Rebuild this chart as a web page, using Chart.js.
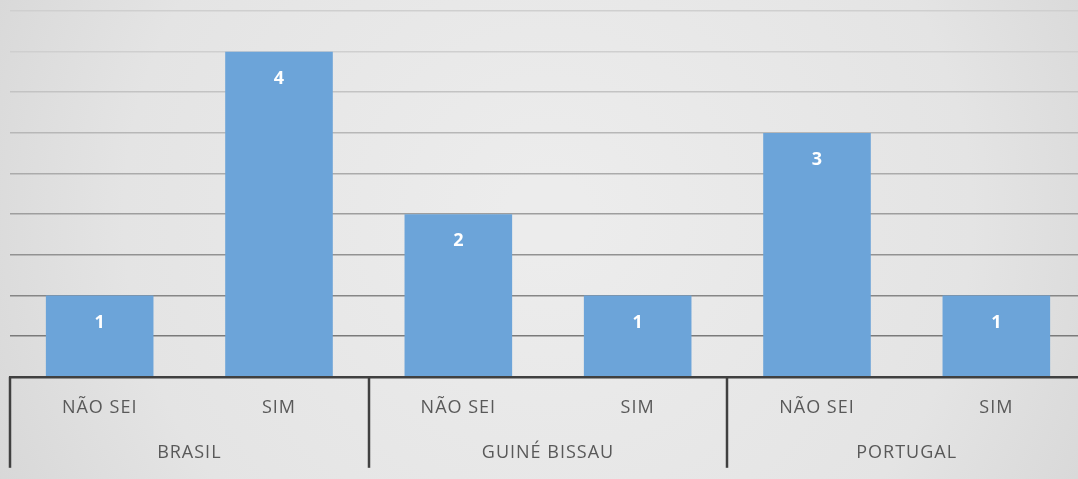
<!DOCTYPE html>
<html>
<head>
<meta charset="utf-8">
<script src="https://cdn.jsdelivr.net/npm/chart.js@4/dist/chart.umd.min.js"></script>
<style>
  html, body { margin: 0; padding: 0; overflow: hidden; background: #e2e2e2; }
  #wrap { position: absolute; left: 0; top: 0; width: 1096px; height: 479px; }
</style>
</head>
<body>
<div id="wrap"><canvas id="chart"></canvas></div>
<script>
// answers inside each country
const answers = ['NÃO SEI', 'SIM', 'NÃO SEI', 'SIM', 'NÃO SEI', 'SIM'];
const countries = ['BRASIL', 'GUINÉ BISSAU', 'PORTUGAL'];
const counts = [1, 4, 2, 1, 3, 1];
const yTicks = [0, 0.5, 1, 1.5, 2, 2.5, 3, 3.5, 4, 4.5];

const FONT = '"Open Sans", "Liberation Sans", sans-serif';
const BAR = '#6ca4d9';

// soft radial grey backdrop like the office chart style
const backgroundPlugin = {
  id: 'backdrop',
  beforeDraw(chart) {
    const { ctx, width, height } = chart;
    const g = ctx.createRadialGradient(width * 0.5, height * 0.45, 40, width * 0.5, height * 0.45, width * 0.62);
    g.addColorStop(0, '#ececec');
    g.addColorStop(0.6, '#e4e4e4');
    g.addColorStop(1, '#d3d3d3');
    ctx.fillStyle = g;
    ctx.fillRect(0, 0, width, height);
    // the source labels are set wide; widen the axis text a little
    ctx.letterSpacing = '1px';
  },
};

// value labels inside the top of each bar
const valueLabels = {
  id: 'valueLabels',
  afterDatasetsDraw(chart) {
    const { ctx } = chart;
    const meta = chart.getDatasetMeta(0);
    ctx.save();
    ctx.letterSpacing = '0px';
    ctx.font = 'bold 18px ' + FONT;
    ctx.fillStyle = '#ffffff';
    ctx.textAlign = 'center';
    ctx.textBaseline = 'middle';
    meta.data.forEach((bar, i) => {
      ctx.fillText(String(counts[i]), bar.x, bar.y + 27);
    });
    ctx.restore();
  },
};

// group separators of the two-level category axis
const groupLines = {
  id: 'groupLines',
  afterDraw(chart) {
    const { ctx, chartArea } = chart;
    const x = chart.scales.x;
    const step = (chartArea.right - chartArea.left) / answers.length;
    ctx.save();
    ctx.strokeStyle = '#404040';
    ctx.lineWidth = 2.5;
    for (let i = 0; i <= answers.length; i += 2) {
      const px = Math.round(x.getPixelForValue(i) - step / 2);
      ctx.beginPath();
      ctx.moveTo(px, chartArea.bottom);
      ctx.lineTo(px, chartArea.bottom + 91);
      ctx.stroke();
    }
    ctx.restore();
  },
};

function gridShade(ctx) {
  const v = ctx.tick ? ctx.tick.value : 0;
  const t = Math.max(0, Math.min(1, (v - 0.5) / 3.5));
  const c = Math.round(0x7a + (0xcf - 0x7a) * t);
  return `rgb(${c},${c},${c})`;
}

new Chart(document.getElementById('chart'), {
  type: 'bar',
  data: {
    labels: answers,
    datasets: [{
      data: counts,
      backgroundColor: BAR,
      borderWidth: 0,
      categoryPercentage: 0.6,
      barPercentage: 1,
    }],
  },
  options: {
    responsive: true,
    maintainAspectRatio: false,
    animation: false,
    layout: { padding: { left: 10, right: 10, top: 11, bottom: 11 } },
    plugins: { legend: { display: false }, tooltip: { enabled: false } },
    scales: {
      y: {
        min: 0,
        max: 4.5,
        afterBuildTicks: scale => { scale.ticks = yTicks.map(v => ({ value: v })); },
        ticks: { display: false },
        border: { display: false },
        grid: { color: gridShade, lineWidth: 1.6, drawTicks: false },
      },
      x: {
        position: 'bottom',
        grid: { display: false, drawTicks: false, tickLength: 0 },
        border: { display: true, color: '#404040', width: 2.5 },
        ticks: {
          autoSkip: false,
          maxRotation: 0,
          padding: 20,
          color: '#595959',
          font: { family: FONT, size: 18 },
        },
      },
      x2: {
        type: 'category',
        position: 'bottom',
        labels: countries,
        grid: { display: false, drawTicks: false, tickLength: 0 },
        border: { display: false },
        ticks: {
          autoSkip: false,
          maxRotation: 0,
          padding: 4,
          color: '#595959',
          font: { family: FONT, size: 18 },
        },
      },
    },
  },
  plugins: [backgroundPlugin, valueLabels, groupLines],
});
</script>
</body>
</html>
